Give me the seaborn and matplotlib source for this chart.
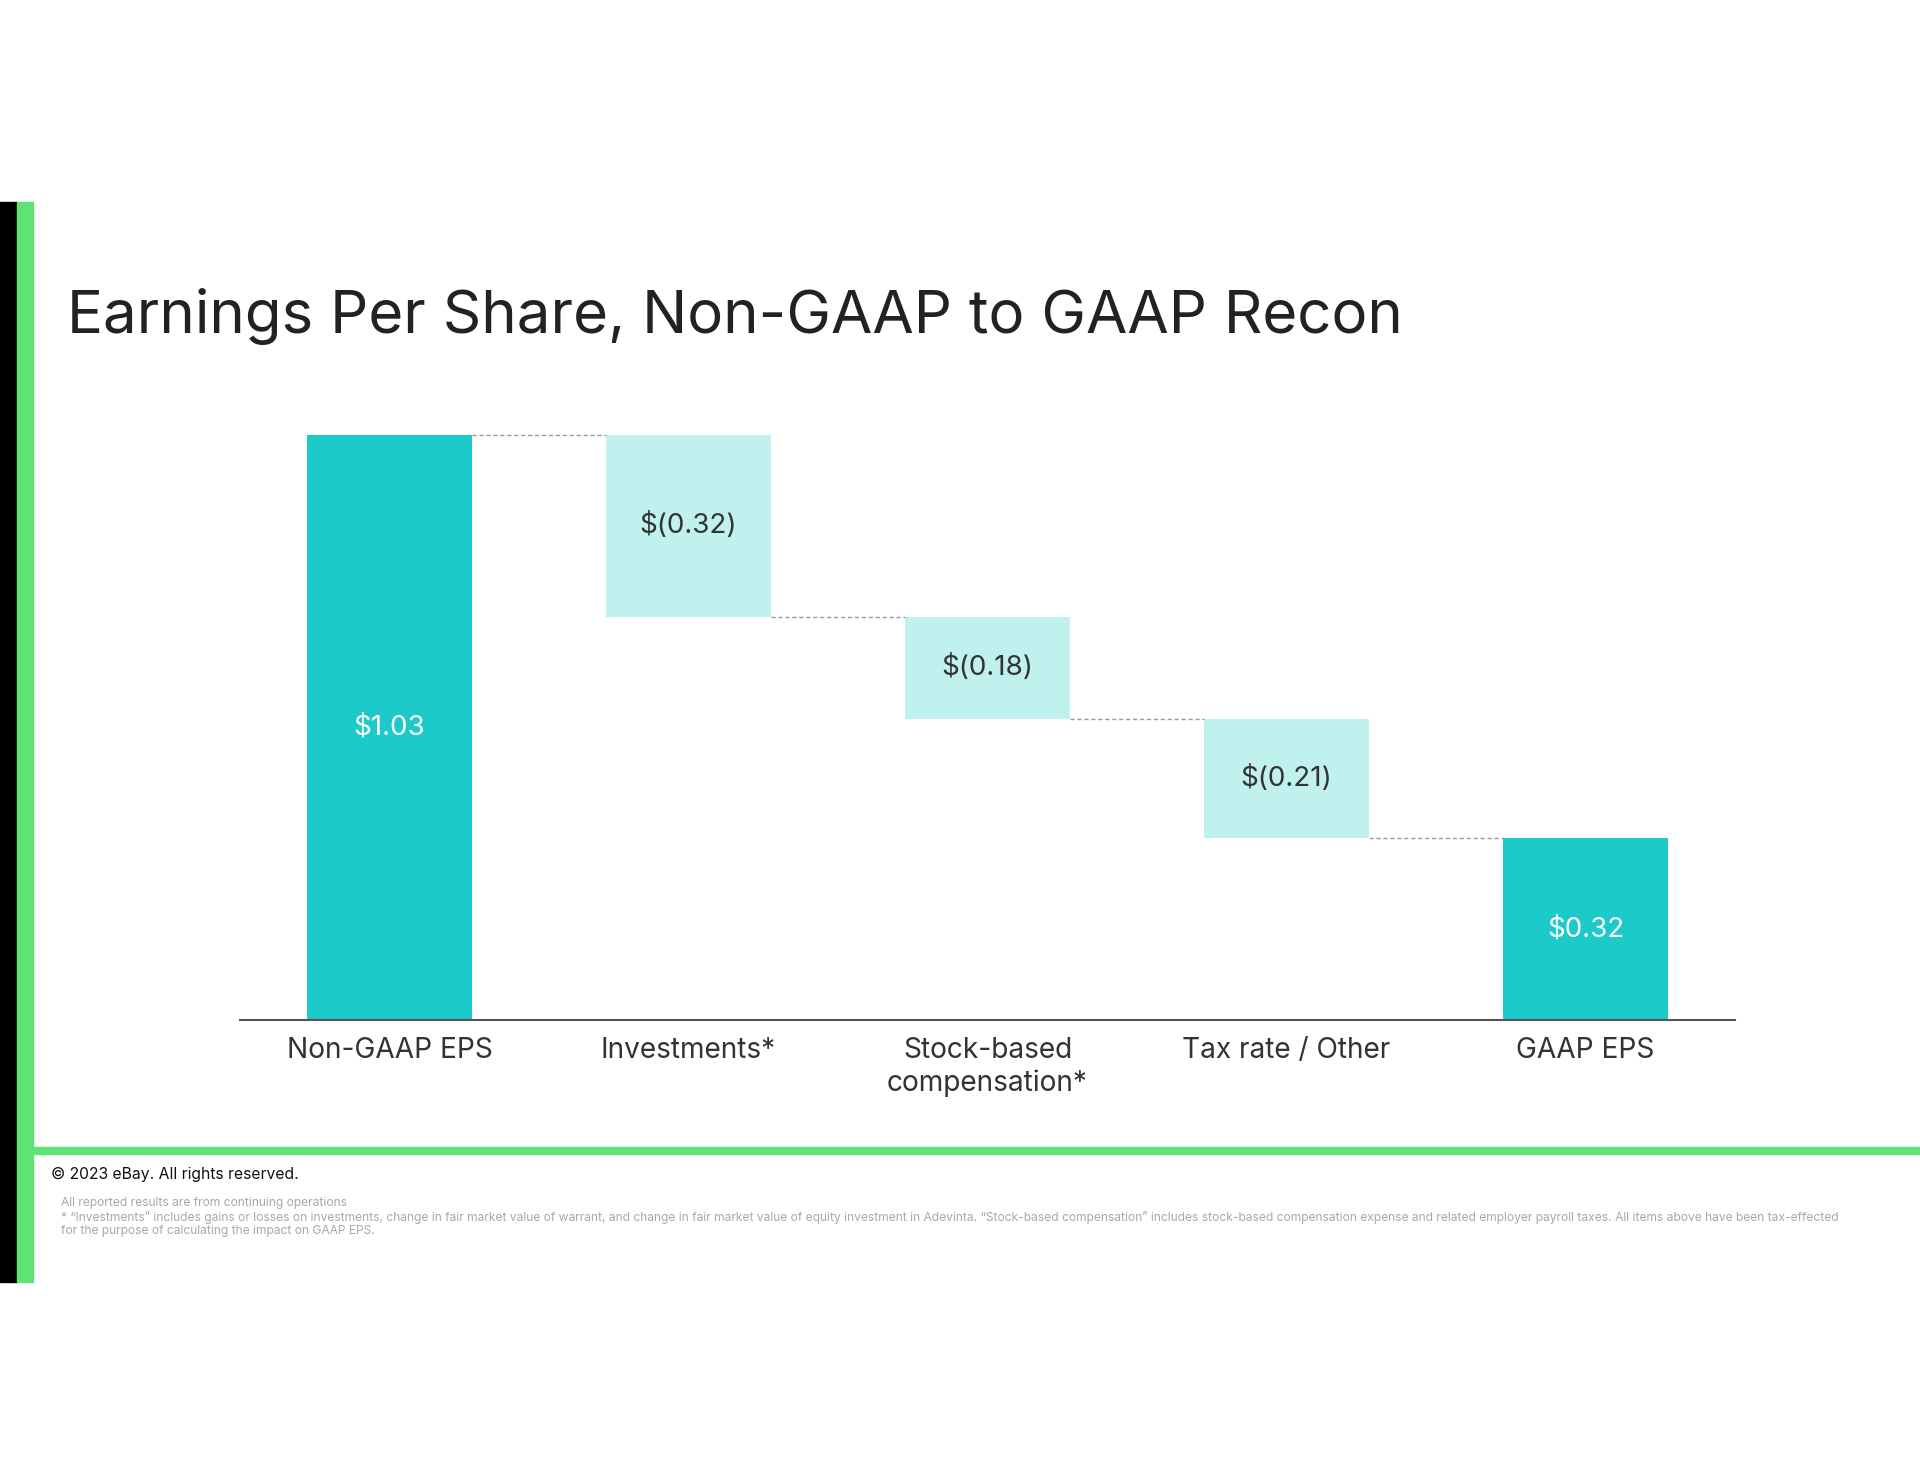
import matplotlib
matplotlib.use("Agg")
import matplotlib.pyplot as plt
import seaborn as sns
import pandas as pd
from matplotlib.patches import Rectangle

# ---- data ----
categories = ["Non-GAAP EPS", "Investments*", "Stock-based\ncompensation*", "Tax rate / Other", "GAAP EPS"]
changes = [1.03, -0.32, -0.18, -0.21, 0.32]
is_total = [True, False, False, False, True]
value_labels = ["$1.03", "$(0.32)", "$(0.18)", "$(0.21)", "$0.32"]

title = "Earnings Per Share, Non-GAAP to GAAP Recon"
copyright_text = "\u00a9 2023 eBay. All rights reserved."
footnotes = [
    "All reported results are from continuing operations",
    "* \u201cInvestments\u201d includes gains or losses on investments, change in fair market value of warrant, and change in fair market value of equity investment in Adevinta. \u201cStock-based compensation\u201d includes stock-based compensation expense and related employer payroll taxes. All items above have been tax-effected",
    "for the purpose of calculating the impact on GAAP EPS.",
]

DARK = "#1CCACA"
LIGHT = "#C1F1EE"
GREEN = "#5FE276"
TXT = "#333333"

sns.set_theme(style="white")
plt.rcParams["font.family"] = ["Inter", "DejaVu Sans"]

W, H = 1920, 1484
fig = plt.figure(figsize=(W / 100, H / 100), dpi=100)
fig.patch.set_facecolor("white")

# waterfall geometry from data
bottoms, heights = [], []
running = 0.0
for c, tot in zip(changes, is_total):
    if tot:
        bottoms.append(0.0)
        heights.append(c)
        running = c
    else:
        new = running + c
        bottoms.append(min(running, new))
        heights.append(abs(c))
        running = new
tops = [b + h for b, h in zip(bottoms, heights)]

df = pd.DataFrame({"category": categories, "height": heights})
colors = [DARK if t else LIGHT for t in is_total]

ax = fig.add_axes([240 / W, (H - 1020) / H, 1495 / W, 585 / H])
bw = 0.555
sns.barplot(data=df, x="category", y="height", hue="category", palette=colors,
            width=bw, legend=False, ax=ax, saturation=1, dodge=False)
for patch, b in zip(ax.patches, bottoms):
    patch.set_y(b)
    patch.set_edgecolor("none")

ax.set_xlim(-0.5, 4.5)
ax.set_ylim(0, 1.03)
ax.set_xlabel("")
ax.set_ylabel("")
ax.set_yticks([])
for s in ["top", "right", "left"]:
    ax.spines[s].set_visible(False)
ax.spines["bottom"].set_color("#555555")
ax.spines["bottom"].set_linewidth(1.5)
ax.spines["bottom"].set_zorder(5)
ax.tick_params(axis="x", length=0, pad=12, labelsize=20.2, labelcolor=TXT)
for lbl in ax.get_xticklabels():
    lbl.set_linespacing(1.25)

# connectors: from the end of one bar to the start of the next
for i in range(len(categories) - 1):
    level = tops[i] if is_total[i] else bottoms[i]
    ax.plot([i + bw / 2, i + 1 - bw / 2], [level, level], color="#999999",
            lw=1.0, ls=(0, (3, 2)), clip_on=False, zorder=1)

# value labels
for i, (b, h, t) in enumerate(zip(bottoms, heights, value_labels)):
    ax.text(i, b + h / 2, t, ha="center", va="center", fontsize=20,
            color="white" if is_total[i] else TXT)

# decorations
fig.patches.append(Rectangle((0, 1 - 1282 / H), 17 / W, (1282 - 202) / H,
                             transform=fig.transFigure, color="black", zorder=0))
fig.patches.append(Rectangle((17 / W, 1 - 1282 / H), 16 / W, (1282 - 202) / H,
                             transform=fig.transFigure, color=GREEN, zorder=0))
fig.patches.append(Rectangle((33 / W, 1 - 1154 / H), (W - 33) / W, 7 / H,
                             transform=fig.transFigure, color=GREEN, zorder=0))

fig.text(67 / W, 1 - 333 / H, title, fontsize=43.2, color="#222222", ha="left", va="baseline")
fig.text(51 / W, 1 - 1179 / H, copyright_text, fontsize=11.3, color="#111111", ha="left", va="baseline")
for line, yc in zip(footnotes, [1203, 1218, 1231]):
    fig.text(61 / W, 1 - yc / H, line, fontsize=8.68, color="#A8A8A8", ha="left", va="center")

fig.savefig("out.png", dpi=100, facecolor="white")
